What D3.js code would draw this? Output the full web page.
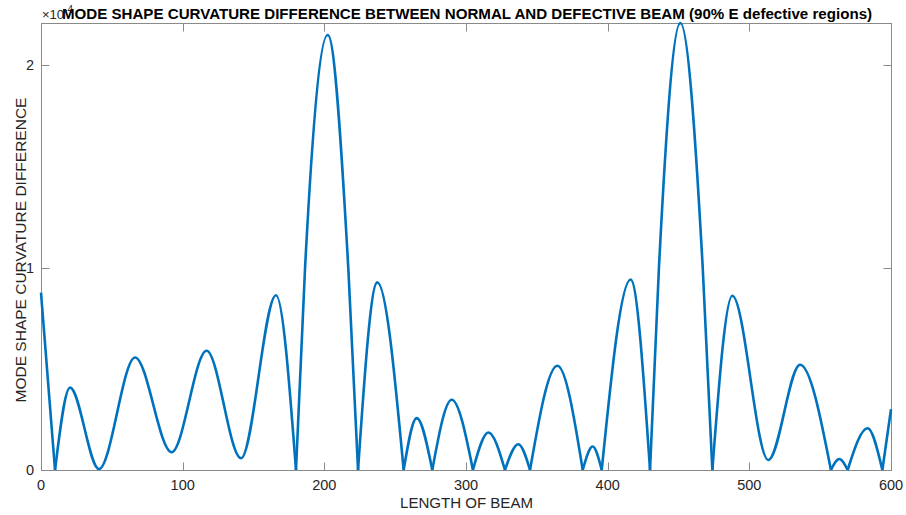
<!DOCTYPE html>
<html><head><meta charset="utf-8">
<script src="https://cdn.jsdelivr.net/npm/d3@7"></script>
<style>
html,body{margin:0;padding:0;background:#fff;}
svg{display:block;font-family:"Liberation Sans",Arial,Helvetica,sans-serif;}
</style></head>
<body>
<svg id="chart" width="906" height="515"></svg>
<script>
// Beam position (x) and |curvature difference| (y, in units of 1e-4)
const beamPos = [0, 9.9, 20.5, 40.9, 66.4, 92.2, 116.9, 141.2, 165.9, 180.0,
  186.4, 202.4, 216.9, 223.8, 237.4, 256.0, 265.2, 276.2, 289.9, 304.9,
  315.8, 327.5, 336.9, 345.2, 364.5, 382.4, 389.4, 395.8, 416.2, 429.9,
  436.2, 451.3, 467.1, 473.9, 488.0, 513.4, 535.8, 557.6, 563.5, 569.4,
  583.5, 593.9, 600];
const curvDiff = [0.876, 0, 0.407, 0.005, 0.556, 0.088, 0.589, 0.058, 0.863, 0,
  1.0, 2.149, 1.0, 0, 0.927, 0, 0.256, 0, 0.347, 0,
  0.185, 0, 0.127, 0, 0.515, 0, 0.116, 0, 0.941, 0,
  1.0, 2.208, 1.0, 0, 0.861, 0.0495, 0.52, 0, 0.054, 0,
  0.206, 0, 0.30];
const xTicks = [0, 100, 200, 300, 400, 500, 600];
const yTicks = [0, 1, 2];
const titleText = "MODE SHAPE CURVATURE DIFFERENCE BETWEEN NORMAL AND DEFECTIVE BEAM (90% E defective regions)";
const xLabel = "LENGTH OF BEAM";
const yLabel = "MODE SHAPE CURVATURE DIFFERENCE";
const exponent = "-4";

const svg = d3.select("#chart");
const L = 41, R = 891, T = 23, B = 470;
const data = beamPos.map((x, i) => ({x, y: curvDiff[i]}));

const x = d3.scaleLinear().domain([0, 600]).range([L, R]);
const y = d3.scaleLinear().domain([0, d3.max(curvDiff)]).range([B, T]);

const axisCol = "#8a8a8a", textCol = "#262626";

function fit(sel, target) {
  const w = sel.node().getComputedTextLength();
  const fs = parseFloat(sel.attr("font-size"));
  sel.attr("font-size", (fs * target / w).toFixed(2));
}

// box
svg.append("rect").attr("x", L + 0.5).attr("y", T + 0.5)
  .attr("width", R - L).attr("height", B - T)
  .attr("fill", "none").attr("stroke", axisCol).attr("stroke-width", 1);

// ticks
const tl = 8;
xTicks.forEach(t => {
  const px = Math.round(x(t)) + 0.5;
  svg.append("line").attr("x1", px).attr("x2", px).attr("y1", B + 0.5).attr("y2", B + 0.5 - tl).attr("stroke", axisCol);
  svg.append("line").attr("x1", px).attr("x2", px).attr("y1", T + 0.5).attr("y2", T + 0.5 + tl).attr("stroke", axisCol);
  svg.append("text").attr("x", x(t)).attr("y", 490).attr("text-anchor", "middle")
    .attr("font-size", 14.5).attr("fill", textCol).text(t);
});
yTicks.forEach(t => {
  const py = Math.round(y(t)) + 0.5;
  svg.append("line").attr("x1", L + 0.5).attr("x2", L + 0.5 + tl).attr("y1", py).attr("y2", py).attr("stroke", axisCol);
  svg.append("line").attr("x1", R + 0.5).attr("x2", R + 0.5 - tl).attr("y1", py).attr("y2", py).attr("stroke", axisCol);
  svg.append("text").attr("x", 34).attr("y", y(t) + 5).attr("text-anchor", "end")
    .attr("font-size", 14.5).attr("fill", textCol).text(t);
});

// line split into segments at zero crossings (cusps)
const segs = [];
let cur = [];
data.forEach((d, i) => {
  cur.push(d);
  if (d.y === 0 && i > 0 && i < data.length - 1) { segs.push(cur); cur = [d]; }
});
segs.push(cur);
const line = d3.line().x(d => x(d.x)).y(d => y(d.y)).curve(d3.curveMonotoneX);
const g = svg.append("g");
segs.forEach(s => {
  g.append("path").attr("d", line(s)).attr("fill", "none")
    .attr("stroke", "#0072BD").attr("stroke-width", 2.6).attr("stroke-linejoin", "round");
});

// exponent label
const ex = svg.append("text").attr("x", 42).attr("y", 19).attr("font-size", 13).attr("fill", textCol);
ex.append("tspan").text("\u00d710");
ex.append("tspan").attr("dy", -6).attr("font-size", 10).text(exponent);

// title
const title = svg.append("text").attr("x", 467).attr("y", 19).attr("text-anchor", "middle")
  .attr("font-size", 15).attr("font-weight", "bold").attr("fill", "#000").text(titleText);
fit(title, 810);

// axis labels
const xl = svg.append("text").attr("x", 466.5).attr("y", 508).attr("text-anchor", "middle")
  .attr("font-size", 15).attr("fill", textCol).text(xLabel);
fit(xl, 133);
svg.append("text").attr("transform", `translate(26,250) rotate(-90)`)
  .attr("text-anchor", "middle").attr("font-size", 15.5).attr("fill", textCol).text(yLabel);
</script>
</body></html>
